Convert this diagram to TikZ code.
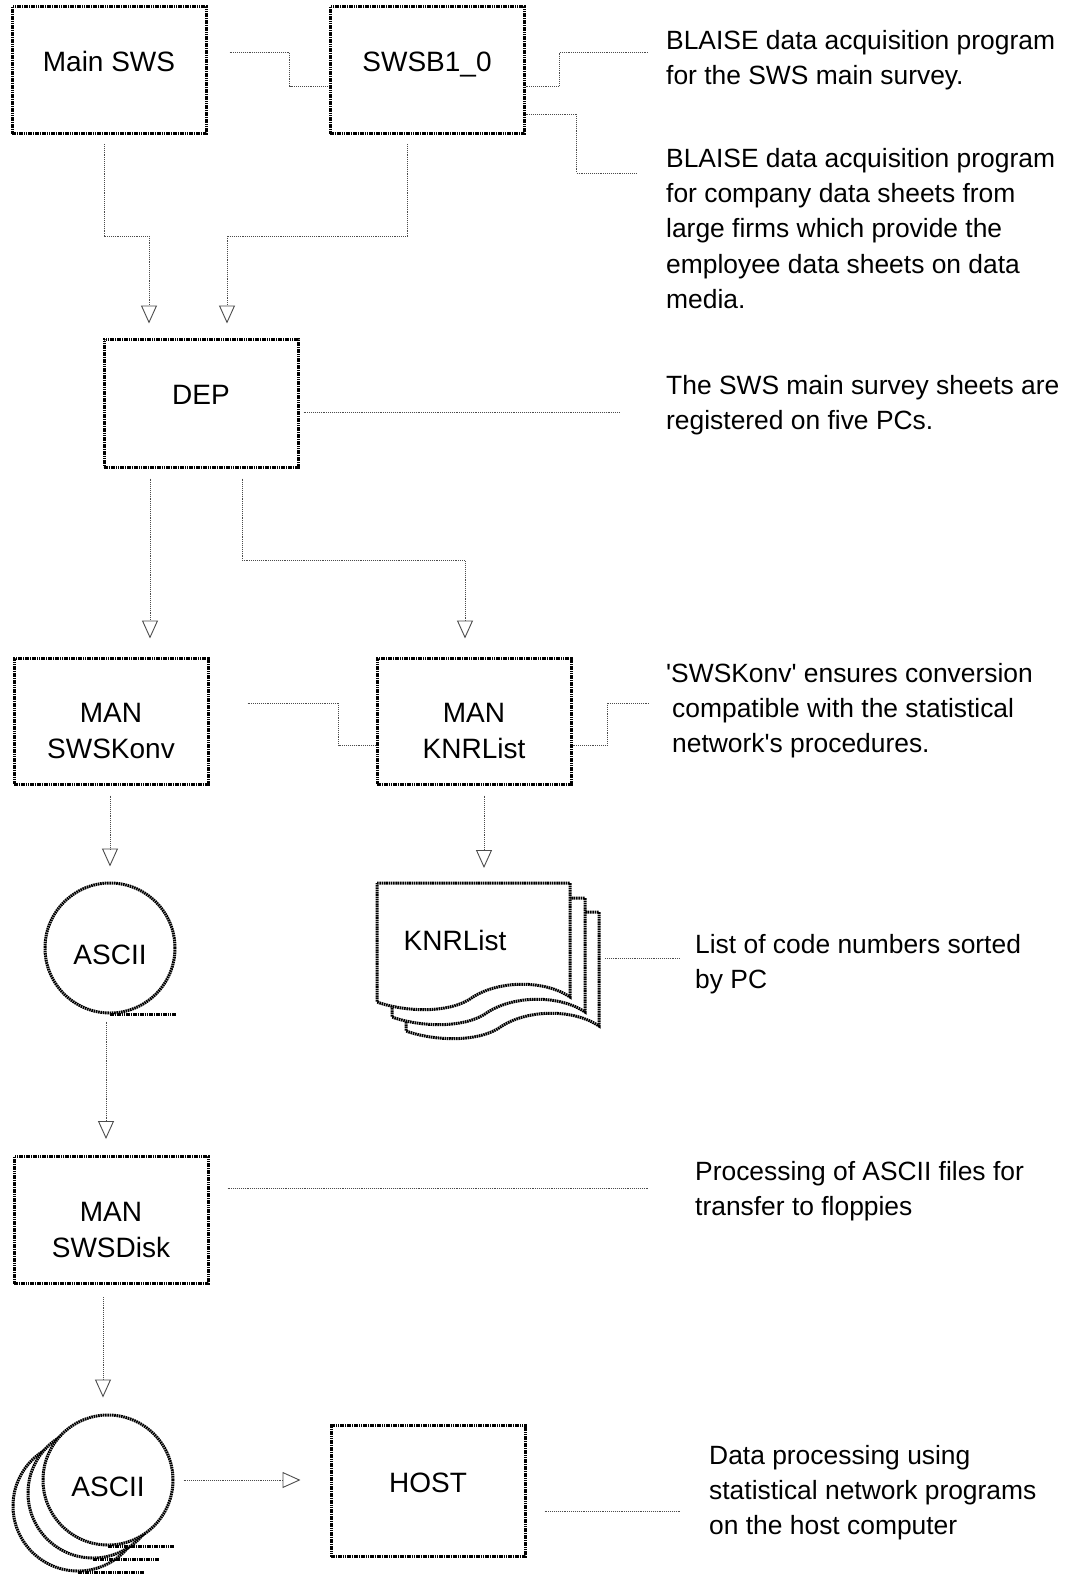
\documentclass[tikz,border=0pt]{standalone}
\usepackage{fontspec}
\setmainfont{Liberation Sans}
\usetikzlibrary{arrows.meta,positioning,shapes.geometric,backgrounds}
\newcommand{\labelfont}{\fontsize{28}{36}\selectfont}
\newcommand{\notefont}{\fontsize{26.4}{35.3}\selectfont}
\newcommand{\topgap}{\rule{0pt}{40pt}}
\tikzset{
  dotline/.style={draw=black!70, line width=0.9pt, dash pattern=on 1pt off 0.9pt},
  link/.style={dotline, -{Triangle[open, length=18pt, width=16pt]}},
  tapeline/.style={draw=black, line width=3pt, dash pattern=on 1.6pt off 0.7pt},
  outline/.style={tapeline, fill=white},
  procbox/.style={outline, minimum width=194pt, minimum height=127pt, align=center, font=\labelfont},
  oneline/.style={text depth=17pt},
  tape/.style={outline, ellipse, minimum width=130pt, minimum height=130pt, inner sep=0pt, text height=34pt, font=\labelfont},
  note/.style={anchor=north west, align=left, inner sep=0pt, font=\notefont}
}

\begin{document}
\begin{tikzpicture}[x=1pt,y=-1pt]
  \useasboundingbox (0,0) rectangle (1077,1575);
  % process boxes
  \node[procbox, oneline] (mainsws) at (109,70) {Main SWS};
  \node[procbox, oneline] (swsb) at (427,70) {SWSB1\_0};
  \node[procbox, oneline, minimum height=128pt] (dep) at (201,403) {DEP};
  \node[procbox, minimum height=126pt] (konv) at (111,721) {\topgap MAN\\SWSKonv};
  \node[procbox, minimum height=126pt] (knrman) at (474,721) {\topgap MAN\\KNRList};
  \node[procbox] (disk) at (111,1220) {\topgap MAN\\SWSDisk};
  \node[procbox, oneline, minimum height=131pt] (host) at (428,1491) {HOST};
  % tapes
  \node[tape] (ascii) at (110,948) {ASCII};
  \draw[tapeline] (ascii.south) -- (ascii.south -| ascii.east);
  \foreach \dx/\dy in {30/26,15/13} {
    \node[tape] (asciib\dx) at (108-\dx,1480+\dy) {};
    \draw[tapeline] (asciib\dx.south) -- (asciib\dx.south -| asciib\dx.east);
  }
  \node[tape] (ascii2) at (108,1480) {ASCII};
  \draw[tapeline] (ascii2.south) -- (ascii2.south -| ascii2.east);
  % list document, three sheets
  \node[font=\labelfont] (knrdoc) at (455,940) {KNRList};
  \begin{scope}[on background layer, shift={(knrdoc.center)}]
    \foreach \d in {29,15,0}
      \draw[outline] (-78+\d,-57+\d) -- (115+\d,-57+\d) -- (115+\d,57+\d)
        .. controls (90+\d,40+\d) and (45+\d,40+\d) .. (18+\d,57+\d)
        .. controls (-5+\d,74+\d) and (-50+\d,72+\d) .. (-78+\d,62+\d) -- cycle;
  \end{scope}
  % notes
  \node[note] (t1) at (666,30) {BLAISE data acquisition program\\for the SWS main survey.};
  \node[note] (t2) at (666,148) {BLAISE data acquisition program\\for company data sheets from\\large firms which provide the\\employee data sheets on data\\media.};
  \node[note] (t3) at (666,375) {The SWS main survey sheets are\\registered on five PCs.};
  \node[note] (t4) at (666,663) {\textquotesingle SWSKonv\textquotesingle{} ensures conversion\\\hspace*{6pt}compatible with the statistical\\\hspace*{6pt}network\textquotesingle s procedures.};
  \node[note] (t5) at (695,934) {List of code numbers sorted\\by PC};
  \node[note] (t6) at (695,1161) {Processing of ASCII files for\\transfer to floppies};
  \node[note] (t7) at (709,1445) {Data processing using\\statistical network programs\\on the host computer};
  \coordinate (e1) at (648,52);
  \coordinate (e2) at (636,173);
  \coordinate (e3) at (620,412);
  \coordinate (e4) at (650,703);
  \coordinate (e5) at (680,958);
  \coordinate (e6) at (648,1188);
  \coordinate (e7) at (680,1511);
  % connectors
  \draw[dotline] ([xshift=22pt,yshift=18pt]mainsws.east) -- ++(60,0) |- ([yshift=-16pt]swsb.west);
  \draw[dotline] ([yshift=-16pt]swsb.east) -- ++(34,0) |- (e1);
  \draw[dotline] ([yshift=-44pt]swsb.east) -- ++(51,0) |- (e2);
  \draw[link] ([xshift=-5pt,yshift=-9pt]mainsws.south) -- ++(0,92) -| ([xshift=-52pt,yshift=14pt]dep.north);
  \draw[link] ([xshift=-20pt,yshift=-9pt]swsb.south) -- ++(0,92) -| ([xshift=26pt,yshift=14pt]dep.north);
  \draw[dotline] ([xshift=4pt,yshift=-9pt]dep.east) -- (e3);
  \draw[link] ([xshift=-51pt,yshift=-10pt]dep.south) -- ([xshift=39pt,yshift=18pt]konv.north);
  \draw[link] ([xshift=41pt,yshift=-10pt]dep.south) -- ++(0,82) -| ([xshift=-9pt,yshift=18pt]knrman.north);
  \draw[dotline] ([xshift=38pt,yshift=18pt]konv.east) -- ++(91,0) |- ([yshift=-24pt]knrman.west);
  \draw[dotline] ([yshift=-24pt]knrman.east) -- ++(35,0) |- (e4);
  \draw[link] ([xshift=-1pt,yshift=-10pt]konv.south) -- ([yshift=15pt]ascii.north);
  \draw[link] ([xshift=10pt,yshift=-10pt]knrman.south) -- ([xshift=29pt,yshift=72pt]knrdoc.center);
  \draw[dotline] ([xshift=150pt,yshift=-18pt]knrdoc.center) -- (e5);
  \draw[link] ([xshift=-4pt,yshift=-7pt]ascii.south) -- ([xshift=-5pt,yshift=16pt]disk.north);
  \draw[dotline] ([xshift=18pt,yshift=32pt]disk.east) -- (e6);
  \draw[link] ([xshift=-8pt,yshift=-12pt]disk.south) -- ([xshift=-5pt,yshift=16pt]ascii2.north);
  \draw[link] ([xshift=9pt]ascii2.east) -- ([xshift=-29pt,yshift=11pt]host.west);
  \draw[dotline] ([xshift=18pt,yshift=-20pt]host.east) -- (e7);
\end{tikzpicture}
\end{document}
